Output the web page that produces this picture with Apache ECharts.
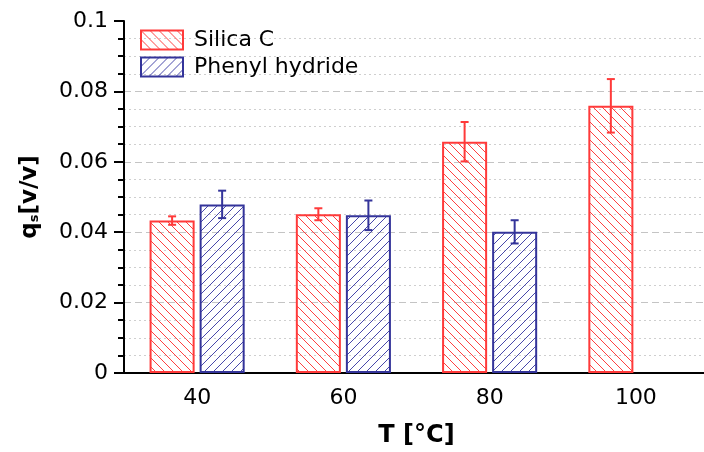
<!DOCTYPE html>
<html>
<head>
<meta charset="utf-8">
<script src="https://cdn.jsdelivr.net/npm/echarts@6/dist/echarts.min.js"></script>
<style>html,body{margin:0;padding:0;background:#fff}#c{width:704px;height:452px}</style>
</head>
<body>
<div id="c"></div>
<script>
const categories = ['40', '60', '80', '100'];
const silicaC = [0.0433, 0.0451, 0.0657, 0.0759];
const silicaCErr = [0.0012, 0.0017, 0.0056, 0.0076];
const phenyl = [0.0479, 0.0448, 0.0401, null];
const phenylErr = [0.0039, 0.0042, 0.0033, null];
const yTicks = [0, 0.02, 0.04, 0.06, 0.08, 0.1];

const RED = '#ff3a3a', BLUE = '#34349a';
const RED_H = '#ff4040', BLUE_H = '#4848aa';
const BAR_FRAC = 0.308, GAP = 0.111;

function hatch(color, dir) {
  const s = 9, cv = document.createElement('canvas');
  cv.width = s; cv.height = s;
  const g = cv.getContext('2d');
  g.strokeStyle = color; g.lineWidth = 1;
  g.beginPath();
  if (dir === 'back') {
    g.moveTo(-1, -1); g.lineTo(s + 1, s + 1);
    g.moveTo(-1, s - 1); g.lineTo(1, s + 1);
    g.moveTo(s - 1, -1); g.lineTo(s + 1, 1);
  } else {
    g.moveTo(-1, s + 1); g.lineTo(s + 1, -1);
    g.moveTo(-1, 1); g.lineTo(1, -1);
    g.moveTo(s - 1, s + 1); g.lineTo(s + 1, s - 1);
  }
  g.stroke();
  return { image: cv, repeat: 'repeat' };
}

function errItems(vals, errs) {
  return vals.map((v, i) => v == null ? null : [i, v, errs[i]]).filter(d => d);
}
function errSeries(name, vals, errs, color, sign) {
  return {
    type: 'custom', name: name, z: 5,
    data: errItems(vals, errs),
    renderItem: function (params, api) {
      const x = api.value(0), y = api.value(1), e = api.value(2);
      const band = api.size([1, 0])[0];
      const off = sign * band * BAR_FRAC * (1 + GAP) / 2;
      const t = api.coord([x, y + e]), b = api.coord([x, y - e]);
      const cx = t[0] + off, cw = 4;
      const st = { stroke: color, lineWidth: 2 };
      return { type: 'group', children: [
        { type: 'line', shape: { x1: cx, y1: t[1], x2: cx, y2: b[1] }, style: st },
        { type: 'line', shape: { x1: cx - cw, y1: t[1], x2: cx + cw, y2: t[1] }, style: st },
        { type: 'line', shape: { x1: cx - cw, y1: b[1], x2: cx + cw, y2: b[1] }, style: st }
      ]};
    }
  };
}

const chart = echarts.init(document.getElementById('c'), null, { renderer: 'canvas' });
const FONT = 'DejaVu Sans';
chart.setOption({
  animation: false,
  textStyle: { fontFamily: FONT, color: '#000' },
  grid: { left: 124, top: 21, width: 585, height: 352, outerBoundsMode: 'none', containLabel: false },
  legend: {
    data: ['Silica C', 'Phenyl hydride'],
    orient: 'vertical', left: 135, top: 24,
    itemWidth: 42, itemHeight: 19, itemGap: 5,
    icon: 'rect',
    textStyle: { fontFamily: FONT, fontSize: 22, color: '#000', padding: [0, 0, 0, 6] }
  },
  xAxis: {
    type: 'category', data: categories,
    name: 'T [°C]', nameLocation: 'middle', nameGap: 51,
    nameTextStyle: { fontFamily: FONT, fontSize: 24, fontWeight: 'bold', color: '#000' },
    axisLine: { lineStyle: { color: '#000', width: 2 } },
    axisTick: { alignWithLabel: true, length: 8, lineStyle: { color: '#000', width: 2 } },
    axisLabel: { fontSize: 22, color: '#000', margin: 14, fontFamily: FONT },
    splitLine: { show: false }
  },
  yAxis: {
    type: 'value', min: yTicks[0], max: yTicks[yTicks.length - 1], interval: 0.02,
    name: 'q{sub|s}[v/v]', nameLocation: 'middle', nameGap: 82, nameRotate: 90,
    nameTextStyle: {
      fontFamily: FONT, fontSize: 23, fontWeight: 'bold', color: '#000',
      rich: { sub: { fontFamily: FONT, fontSize: 13, fontWeight: 'bold', color: '#000', padding: [9, 0, 0, 0] } }
    },
    axisLine: { show: true, lineStyle: { color: '#000', width: 2 } },
    axisTick: { show: true, length: 10, lineStyle: { color: '#000', width: 2 } },
    minorTick: { show: true, splitNumber: 4, length: 6, lineStyle: { color: '#000', width: 2 } },
    axisLabel: { fontSize: 22, color: '#000', margin: 16, fontFamily: FONT },
    splitLine: { show: true, lineStyle: { color: ['#c4c4c4', '#c4c4c4', '#c4c4c4', '#c4c4c4', '#c4c4c4', 'rgba(0,0,0,0)'], type: [7, 4], width: 1 } },
    minorSplitLine: { show: true, lineStyle: { color: '#cfcfcf', type: [2, 3], width: 1 } }
  },
  series: [
    { type: 'bar', name: 'Silica C', data: silicaC, barWidth: (BAR_FRAC * 100) + '%', barGap: (GAP * 100) + '%',
      itemStyle: { color: hatch(RED_H, 'back'), borderColor: RED, borderWidth: 2 } },
    { type: 'bar', name: 'Phenyl hydride', data: phenyl.map(v => v == null ? '-' : v), barWidth: (BAR_FRAC * 100) + '%',
      itemStyle: { color: hatch(BLUE_H, 'fwd'), borderColor: BLUE, borderWidth: 2 } },
    errSeries('errSilica', silicaC, silicaCErr, RED, -1),
    errSeries('errPhenyl', phenyl, phenylErr, BLUE, 1)
  ]
});
</script>
</body>
</html>
